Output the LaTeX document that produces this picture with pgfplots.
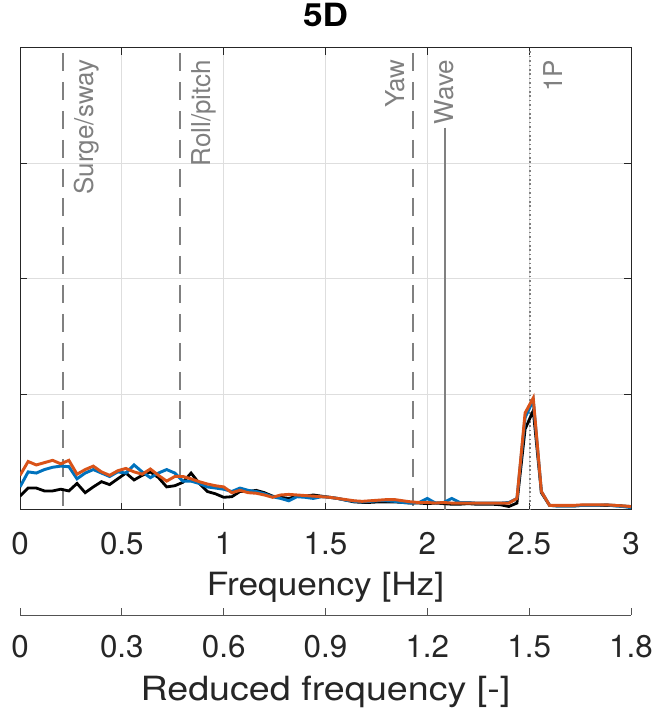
\documentclass[border=0pt]{standalone}
\usepackage{fontspec}
\setmainfont{TeX Gyre Heros}
\newfontfamily\labfont{TeX Gyre Heros}[FakeStretch=1.1]
\newfontfamily\labfontb{TeX Gyre Heros}[FakeStretch=1.13]
\newfontfamily\annfont{TeX Gyre Heros}
\usepackage{pgfplots}
\usepackage{pgfplotstable}
\pgfplotsset{compat=1.18}
\usetikzlibrary{calc}
\definecolor{mblue}{rgb}{0,0.447,0.741}
\definecolor{morange}{rgb}{0.85,0.325,0.098}
\definecolor{axc}{rgb}{0.15,0.15,0.15}
\definecolor{gridc}{rgb}{0.87,0.87,0.87}
\definecolor{xlc}{rgb}{0.5,0.5,0.5}

\pgfplotstableread{
x blk blu org
0.00 0.12 0.20 0.30
0.04 0.19 0.33 0.42
0.08 0.19 0.32 0.39
0.12 0.165 0.35 0.41
0.16 0.165 0.37 0.43
0.20 0.18 0.38 0.40
0.24 0.165 0.375 0.43
0.28 0.23 0.27 0.31
0.32 0.15 0.32 0.35
0.36 0.20 0.35 0.38
0.40 0.245 0.32 0.33
0.44 0.22 0.29 0.30
0.48 0.27 0.33 0.34
0.52 0.32 0.32 0.36
0.56 0.26 0.39 0.33
0.60 0.30 0.33 0.31
0.64 0.33 0.28 0.355
0.68 0.28 0.32 0.30
0.72 0.20 0.35 0.25
0.76 0.21 0.32 0.29
0.80 0.24 0.25 0.29
0.84 0.32 0.25 0.27
0.88 0.23 0.23 0.245
0.92 0.16 0.20 0.225
0.96 0.14 0.19 0.21
1.00 0.11 0.18 0.20
1.04 0.115 0.16 0.15
1.08 0.16 0.19 0.17
1.12 0.16 0.17 0.15
1.16 0.17 0.16 0.145
1.20 0.15 0.14 0.13
1.24 0.12 0.115 0.11
1.28 0.11 0.10 0.13
1.32 0.10 0.08 0.135
1.36 0.12 0.115 0.13
1.40 0.12 0.11 0.125
1.44 0.13 0.10 0.12
1.48 0.12 0.115 0.115
1.52 0.11 0.11 0.11
1.56 0.10 0.10 0.10
1.60 0.085 0.085 0.09
1.64 0.07 0.075 0.08
1.68 0.066 0.07 0.075
1.72 0.066 0.075 0.08
1.76 0.07 0.08 0.085
1.80 0.07 0.08 0.09
1.84 0.07 0.075 0.09
1.88 0.065 0.065 0.08
1.92 0.06 0.06 0.07
1.96 0.06 0.065 0.065
2.00 0.055 0.10 0.065
2.04 0.06 0.06 0.06
2.08 0.055 0.065 0.065
2.12 0.05 0.10 0.06
2.16 0.05 0.065 0.06
2.20 0.055 0.065 0.06
2.24 0.05 0.06 0.06
2.28 0.05 0.06 0.06
2.32 0.05 0.06 0.06
2.36 0.045 0.06 0.06
2.40 0.03 0.065 0.06
2.44 0.06 0.10 0.10
2.48 0.70 0.80 0.84
2.52 0.86 0.95 0.97
2.56 0.15 0.16 0.16
2.60 0.04 0.04 0.04
2.64 0.035 0.035 0.04
2.68 0.035 0.035 0.04
2.72 0.035 0.035 0.04
2.76 0.04 0.04 0.045
2.80 0.04 0.04 0.045
2.84 0.04 0.04 0.045
2.88 0.04 0.045 0.045
2.92 0.04 0.035 0.04
2.96 0.035 0.03 0.035
3.00 0.03 0.02 0.03
}\data

\begin{document}
\begin{tikzpicture}
\begin{axis}[
  at={(0,0)}, anchor=south west,
  scale only axis, width=458.25pt, height=346.5pt,
  xmin=0, xmax=3, ymin=0, ymax=4,
  xtick={0,0.5,1,1.5,2,2.5,3}, ytick={0,1,2,3,4}, yticklabels={},
  tick align=inside, major tick length=5.5pt,
  grid=major, major grid style={gridc, line width=0.75pt},
  axis line style={axc, line width=0.75pt},
  every tick/.style={axc, line width=0.75pt},
  tick label style={font=\fontsize{23.5}{28}\selectfont, text=axc},
  /pgf/number format/assume math mode=true,
  xticklabel style={anchor=base, yshift=-33.75pt, inner sep=0pt},
  xlabel={Frequency [Hz]},
  xlabel style={at={(axis description cs:0.5,0)}, anchor=base, yshift=-63.75pt, font=\labfont\fontsize{24}{28}\selectfont, text=axc, inner sep=0pt},
  title={5D},
  title style={at={(axis description cs:0.5,1)}, anchor=base, yshift=9.75pt, font=\labfont\bfseries\fontsize{24}{28}\selectfont, inner sep=0pt},
  clip mode=individual,
]
% reference lines
\addplot[xlc, line width=1.3pt, dash pattern=on 13.5pt off 8.25pt] coordinates {(0.21,3.957) (0.21,0)};
\addplot[xlc, line width=1.3pt, dash pattern=on 13.5pt off 8.25pt] coordinates {(0.785,3.957) (0.785,0)};
\addplot[xlc, line width=1.3pt, dash pattern=on 13.5pt off 8.25pt] coordinates {(1.93,3.957) (1.93,0)};
\addplot[xlc, line width=1.3pt] coordinates {(2.085,3.31) (2.085,0)};
\addplot[xlc, line width=1.1pt, dash pattern=on 1.1pt off 2.2pt] coordinates {(2.505,3.97) (2.505,0)};
% data
\addplot[black, line width=2.1pt] table[x=x, y=blk] {\data};
\addplot[mblue, line width=2.2pt] table[x=x, y=blu] {\data};
\addplot[morange, line width=2.2pt] table[x=x, y=org] {\data};
% labels
\node[rotate=90, anchor=north east, inner sep=0pt, text=xlc, font=\annfont\fontsize{19.5}{23}\selectfont] at ($(axis cs:0.21,3.9)+(8pt,0)$) {Surge/sway};
\node[rotate=90, anchor=north east, inner sep=0pt, text=xlc, font=\annfont\fontsize{19.5}{23}\selectfont] at ($(axis cs:0.785,3.9)+(8.5pt,0)$) {Roll/pitch};
\node[rotate=90, anchor=south east, inner sep=0pt, text=xlc, font=\annfont\fontsize{19.5}{23}\selectfont] at ($(axis cs:1.93,3.9)+(-5.8pt,0)$) {Yaw};
\node[rotate=90, anchor=east, inner sep=0pt, text=xlc, font=\annfont\fontsize{19.5}{23}\selectfont] at (axis cs:2.085,3.9) {Wave};
\node[rotate=90, anchor=north east, inner sep=0pt, text=xlc, font=\annfont\fontsize{19.5}{23}\selectfont] at ($(axis cs:2.505,3.9)+(9.5pt,0)$) {1P};
\end{axis}
\begin{axis}[
  at={(0,-78.75pt)}, anchor=south west,
  scale only axis, width=458.25pt, height=10pt,
  xmin=0, xmax=1.8, ymin=0, ymax=1,
  axis x line*=bottom, hide y axis,
  xtick={0,0.3,0.6,0.9,1.2,1.5,1.8},
  tick align=inside, major tick length=5.25pt,
  axis line style={axc!80, line width=0.75pt},
  every tick/.style={axc!80, line width=0.75pt},
  tick label style={font=\fontsize{23.5}{28}\selectfont, text=axc},
  /pgf/number format/assume math mode=true,
  xticklabel style={anchor=base, yshift=-31.5pt, inner sep=0pt},
  xlabel={Reduced frequency [-]},
  xlabel style={at={(axis description cs:0.5,0)}, anchor=base, yshift=-63.75pt, font=\labfontb\fontsize{25}{29}\selectfont, text=axc, inner sep=0pt},
]
\addplot[draw=none] coordinates {(0,0)};
\end{axis}
\pgfresetboundingbox
\path (-15pt,-151.5pt) rectangle (477pt,382.5pt);
\end{tikzpicture}
\end{document}
